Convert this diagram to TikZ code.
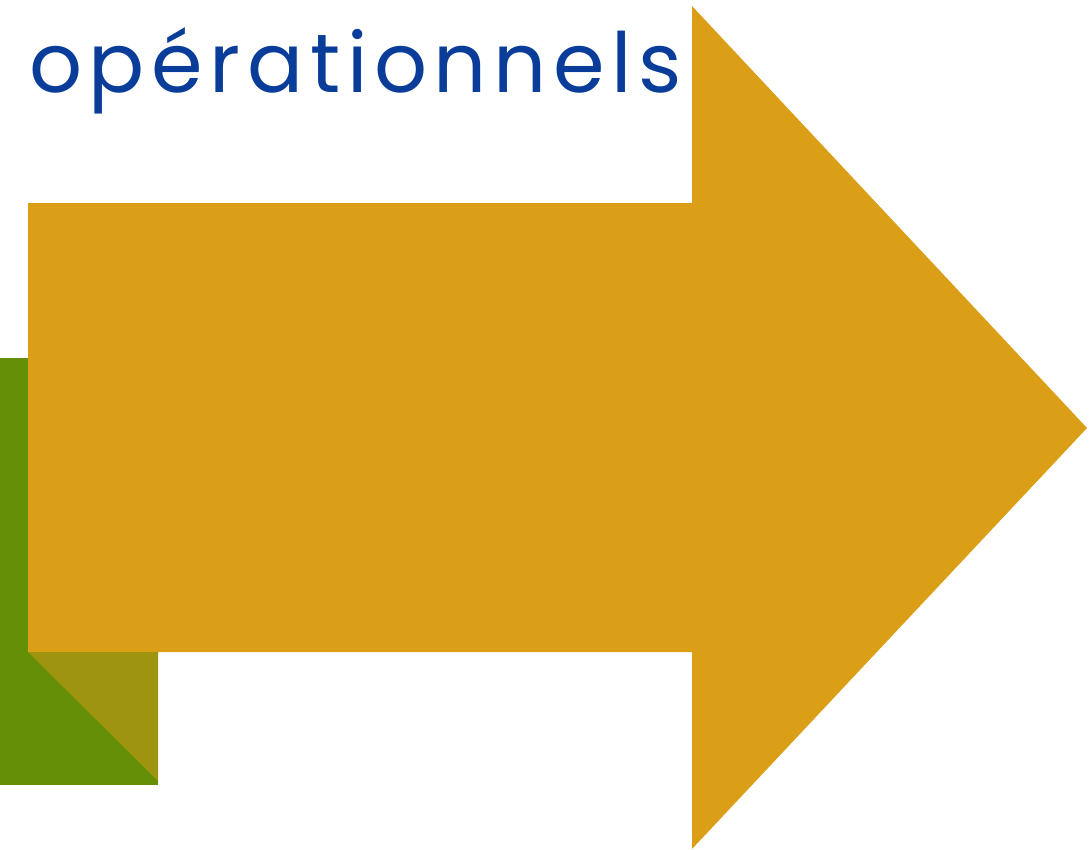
\documentclass[tikz,border=0pt]{standalone}
\usepackage{fontspec}
\newfontfamily\titlefont{Poppins}[LetterSpace=8.0]
\begin{document}
\begin{tikzpicture}[x=1pt,y=-1pt]
  \newcommand{\Xshaft}[0]{ 28 }
  \newcommand{\Xhead}[0]{ 692 }
  \newcommand{\Xtip}[0]{ 1087 }
  \newcommand{\Ytop}[0]{ 203 }
  \newcommand{\Ybot}[0]{ 652 }

  \definecolor{arrowgold}{HTML}{DB9E17}
  \definecolor{leafgreen}{HTML}{668F08}
  \definecolor{foldolive}{HTML}{9E9410}
  \definecolor{titleblue}{HTML}{0A3D99}

  \tikzstyle{flat}  = [draw=none]
  \tikzstyle{title} = [anchor=base west,inner sep=0pt,text=titleblue,font=\titlefont\fontsize{83}{83}\selectfont]

  \useasboundingbox (0,0) rectangle (1092,849);

  % green block behind
  \fill[flat,leafgreen] (0,358) rectangle (158,785);

  % big arrow
  \fill[flat,arrowgold] (\Xshaft,\Ytop) -- (\Xhead,\Ytop) -- (\Xhead,6)
    -- (\Xtip,428) -- (\Xhead,849) -- (\Xhead,\Ybot) -- (\Xshaft,\Ybot) -- cycle;

  % fold
  \fill[flat,foldolive] (\Xshaft,\Ybot) -- (158,\Ybot) -- (158,781) -- cycle;

  % title
  \node[title] (titre) at (29,92) {opérationnels};
\end{tikzpicture}
\end{document}
